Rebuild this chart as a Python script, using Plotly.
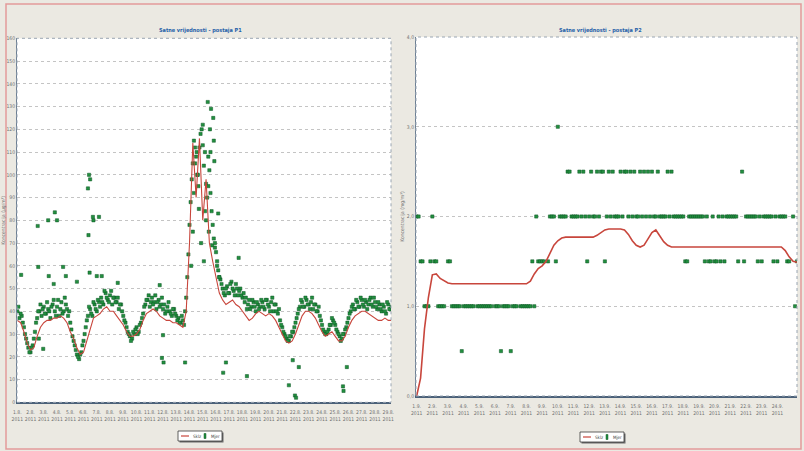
import plotly.graph_objects as go

# ---------------- Postaja P1 ----------------
# mjerenja u parnim satima (4-satni koraci od sata 0)
p1_step_h = 4
p1_mjer = [
    40, 37, 38,
    33, 28, 24, 22, 25, 31,
    37, 40, 38, 42, 39, 41, 37, 43, 40,
    42, 38, 44, 40, 43, 38, 35,
    29, 25, 21, 19, 22, 27, 33,
    38, 41, 38, 43, 40, 44,
    46, 43, 48, 45, 47, 43, 46,
    44, 41, 43, 38, 35,
    31, 29, 28, 30,
    33, 31, 35, 39, 43,
    45, 42, 46, 44, 41, 45, 43,
    41, 39, 42, 40, 38, 41, 38,
    37, 35, 36, 40,
    55, 78, 98, 115,
    108, 95, 118, 122, 110, 90, 102, 84, 72,
    66, 58, 54, 50,
    47, 51, 48, 53, 49, 52, 47, 50, 46,
    44, 41, 45, 42, 44, 40, 43, 42,
    44, 41, 45, 42, 44, 40, 43, 39, 36, 33,
    30, 28, 27, 29, 31, 35, 39, 42,
    44, 42, 45, 43, 44, 41, 43, 40, 38,
    34, 31, 30, 32, 34, 36, 34,
    31, 29, 28, 30, 33, 37, 40,
    43, 41, 44, 42, 45, 42, 44,
    43, 46, 42, 44, 41, 43,
    40, 42, 39, 43, 41,
]
# mjerenja u medusatima (sat 2 + 4-satni koraci)
p1_mjer_b = [
    42, 39, 35,
    30, 26, 22, 24, 28, 35,
    40, 43, 41, 39, 44, 40, 42, 45, 38,
    45, 41, 39, 46, 41, 40, 32,
    27, 23, 20, 21, 25, 30, 36,
    42, 39, 44, 41, 45, 42,
    44, 49, 46, 44, 49, 46, 44,
    46, 43, 40, 36, 33,
    30, 27, 31, 32,
    30, 34, 37, 42, 45,
    47, 44, 43, 47, 44, 42, 46,
    43, 40, 44, 39, 41, 39, 36,
    35, 38, 34, 46,
    65, 88, 105, 112,
    100, 112, 120, 104, 96, 108, 92, 78, 68,
    62, 55, 52, 48,
    50, 48, 52, 50, 47, 50, 49, 47, 48,
    46, 43, 41, 45, 42, 44, 41, 45,
    42, 45, 43, 40, 46, 43, 40, 41, 34, 31,
    29, 27, 29, 31, 33, 37, 41, 45,
    42, 46, 43, 41, 46, 43, 40, 42, 36,
    32, 30, 31, 34, 37, 35, 32,
    30, 27, 30, 32, 35, 39, 42,
    41, 45, 42, 46, 43, 45, 41,
    45, 43, 46, 42, 44, 41,
    43, 40, 44, 41, 42,
]
# pojedinacna odstupanja (sat, vrijednost)
p1_extra_h = [7, 37, 38, 39, 47, 56, 57, 66, 68, 72, 83, 88, 108, 128, 129,
              130, 131, 132, 137, 138, 144, 148, 153, 182, 258, 262, 264, 265,
              304, 315, 318, 320, 322, 325, 327, 329, 333, 336, 338, 340, 342,
              345, 346, 347, 349, 350, 351, 353, 355, 356, 357, 358, 362, 364,
              366, 373, 378, 401, 416, 492, 499, 503, 505, 510, 590, 591, 597]
p1_extra_v = [56, 77.5, 59.5, 28, 23.5, 80, 55.5, 52, 83.5, 80, 59.5, 55.5, 53, 94, 73.5,
              100, 57, 98, 81.5, 80, 55.5, 81.5, 55.5, 52.5, 51.5, 19.5, 29.5, 17.5,
              17.5, 60, 75, 92, 105, 110, 100, 85, 70, 113, 62, 84, 80,
              132, 95, 75, 120, 110, 129, 69, 125, 115, 106, 70, 60, 83,
              55, 13, 17.5, 63.5, 11.5, 7.5, 18.5, 3, 2, 15.5, 7, 5, 15.5]
# klizni prosjek, 6-satni koraci
p1_sklz_step_h = 6
p1_sklz = [
    36, 35, 31, 26, 23, 24, 29, 33, 35, 36, 36, 37, 37, 38, 37, 35,
    31, 28, 24, 21, 22, 27, 33, 37, 38, 39, 41, 42, 40, 40, 38, 36,
    34, 31, 29, 29, 30, 32, 36, 39, 40, 41, 40, 38, 37, 36, 36, 35,
    35, 34, 33, 40, 70, 114, 90, 116, 80, 98, 70, 62, 55, 48, 45, 43,
    44, 45, 43, 42, 40, 38, 36, 37, 39, 40, 39, 38, 39, 38, 36, 33,
    30, 27, 26, 27, 30, 34, 38, 40, 40, 39, 37, 34, 31, 29, 30, 31,
    29, 27, 27, 29, 33, 36, 38, 39, 40, 40, 39, 38, 37, 36, 36, 37,
    36, 36,
]
p1_tick_h = [0, 24, 48, 72, 96, 120, 144, 168, 192, 216, 240, 264, 288, 312, 336,
             360, 384, 408, 432, 456, 480, 504, 528, 552, 576, 600, 624, 648, 672]
p1_tick_text = ["1.8.<br>2011", "2.8.<br>2011", "3.8.<br>2011", "4.8.<br>2011",
                "5.8.<br>2011", "6.8.<br>2011", "7.8.<br>2011", "8.8.<br>2011",
                "9.8.<br>2011", "10.8.<br>2011", "11.8.<br>2011", "12.8.<br>2011",
                "13.8.<br>2011", "14.8.<br>2011", "15.8.<br>2011", "16.8.<br>2011",
                "17.8.<br>2011", "18.8.<br>2011", "19.8.<br>2011", "20.8.<br>2011",
                "21.8.<br>2011", "22.8.<br>2011", "23.8.<br>2011", "24.8.<br>2011",
                "25.8.<br>2011", "26.8.<br>2011", "27.8.<br>2011", "28.8.<br>2011",
                "29.8.<br>2011"]
p1_y_ticks = [0, 10, 20, 30, 40, 50, 60, 70, 80, 90, 100, 110, 120, 130, 140, 150, 160]

# ---------------- Postaja P2 ----------------
# mjerenja, 3-satni koraci (None = nema podatka)
p2_step_h = 3
p2_mjer = [
    2, 2, 1.5, 1.5, 1, 1, 1, 1.5, 2, 1.5,
    1.5, 1, 1, 1, 1, None, 1.5, 1.5, 1, 1,
    1, 1, 1, 0.5, 1, 1, 1, 1, 1, 1,
    None, 1, 1, 1, 1, 1, 1, 1, 1, None,
    1, 1, 1, 0.5, 1, 1, 1, 1, 0.5, 1,
    1, 1, None, 1, 1, 1, 1, 1, 1, 1.5,
    1, 2, 1.5, 1.5, 1.5, 1.5, None, 1.5, 2, 2,
    2, 1.5, 3, 2, 2, 2, 2, 2.5, 2.5, 2,
    2, 2, 2, 2.5, 2, 2.5, 2, 1.5, 2, 2.5,
    2, 2, 2.5, 2, 2.5, 2.5, 1.5, 2, 2.5, 2,
    2.5, 2, 2, 2, 2.5, 2, 2.5, 2.5, 2, 2.5,
    2, 2.5, 2, 2, 2.5, 2, 2.5, 2, 2.5, 2,
    2.5, 2, 2, 2.5, 2, 2, 2, 2, 2.5, 2,
    2.5, 2, 2, 2, 2, 2, 2, 1.5, 1.5, 2,
    2, 2, 2, 2, 2, 2, 2, 1.5, 2, 1.5,
    1.5, 2, 1.5, 1.5, 2, 1.5, 2, 1.5, 2, 2,
    2, 2, 2, 2, 1.5, None, 2.5, 1.5, 2, 2,
    2, 2, 2, 2, 1.5, 2, 1.5, 2, 2, 2,
    2, 2, 1.5, 2, 1.5, 2, 2, 2, 2, 1.5,
    1.5, None, 2, 1, 1.5,
]
# klizni prosjek, 6-satni koraci
p2_sklz_step_h = 6
p2_sklz = [
    0, 0.2, 0.75, 1.1, 1.35, 1.36, 1.31, 1.28, 1.26,
    1.25, 1.25, 1.25, 1.25, 1.25, 1.25, 1.25, 1.25, 1.25, 1.25,
    1.25, 1.25, 1.25, 1.25, 1.25, 1.25, 1.25, 1.25, 1.25, 1.25,
    1.28, 1.36, 1.42, 1.45, 1.5, 1.6, 1.68, 1.73, 1.76, 1.77,
    1.77, 1.77, 1.77, 1.77, 1.77, 1.77, 1.77,
    1.79, 1.82, 1.85, 1.86, 1.86, 1.86, 1.86, 1.85, 1.8, 1.73,
    1.68, 1.66, 1.68, 1.75, 1.82, 1.85, 1.78, 1.72, 1.68, 1.66,
    1.66, 1.66, 1.66, 1.66, 1.66, 1.66, 1.66, 1.66, 1.66, 1.66,
    1.66, 1.66, 1.66, 1.66, 1.66, 1.66, 1.66, 1.66, 1.66, 1.66,
    1.66, 1.66, 1.66, 1.66, 1.66, 1.66, 1.66, 1.66,
    1.62, 1.55, 1.5, 1.49,
]
p2_tick_h = [0, 24, 48, 72, 96, 120, 144, 168, 192, 216, 240, 264, 288, 312, 336,
             360, 384, 408, 432, 456, 480, 504, 528, 552]
p2_tick_text = ["1.9.<br>2011", "2.9.<br>2011", "3.9.<br>2011", "4.9.<br>2011",
                "5.9.<br>2011", "6.9.<br>2011", "7.9.<br>2011", "8.9.<br>2011",
                "9.9.<br>2011", "10.9.<br>2011", "11.9.<br>2011", "12.9.<br>2011",
                "13.9.<br>2011", "14.9.<br>2011", "15.9.<br>2011", "16.9.<br>2011",
                "17.9.<br>2011", "18.9.<br>2011", "19.9.<br>2011", "20.9.<br>2011",
                "21.9.<br>2011", "22.9.<br>2011", "23.9.<br>2011", "24.9.<br>2011"]
p2_y_ticks = [0, 1, 2, 3, 4]
p2_y_text = ["0,0", "1,0", "2,0", "3,0", "4,0"]

titles = ["Satne vrijednosti - postaja P1", "Satne vrijednosti - postaja P2"]
legend_names = ["Sklz", "Mjer"]

# ---------------- stil ----------------
W, H = 804, 451
RED = "#c8463c"
GREEN = "#22903f"
GREEN_EDGE = "#0c5424"
FONT_FAMILY = "Liberation Sans Narrow, DejaVu Sans Condensed, sans-serif"
TICK_FONT = dict(family=FONT_FAMILY, size=5, color="#707070")

p1_mjer_x = [i * p1_step_h for i in range(len(p1_mjer))]
p1_mjer_b_x = [2 + i * p1_step_h for i in range(len(p1_mjer_b))]
p1_sklz_x = [i * p1_sklz_step_h for i in range(len(p1_sklz))]
p2_mjer_x = [i * p2_step_h for i in range(len(p2_mjer))]
p2_sklz_x = [i * p2_sklz_step_h for i in range(len(p2_sklz))]

marker_style = dict(symbol="square", size=3.2, color=GREEN, line=dict(color=GREEN_EDGE, width=0.5))

fig = go.Figure()
fig.add_trace(go.Scatter(x=p1_mjer_x + p1_mjer_b_x + p1_extra_h,
                         y=p1_mjer + p1_mjer_b + p1_extra_v, mode="markers",
                         name=legend_names[1], marker=marker_style, xaxis="x", yaxis="y"))
fig.add_trace(go.Scatter(x=p1_sklz_x, y=p1_sklz, mode="lines", name=legend_names[0],
                         line=dict(color=RED, width=1.1), xaxis="x", yaxis="y"))
fig.add_trace(go.Scatter(x=p2_mjer_x, y=p2_mjer, mode="markers", name=legend_names[1],
                         marker=marker_style, xaxis="x2", yaxis="y2"))
fig.add_trace(go.Scatter(x=p2_sklz_x, y=p2_sklz, mode="lines", name=legend_names[0],
                         line=dict(color=RED, width=1.6), xaxis="x2", yaxis="y2"))

def px(x):
    return x / W

def py(y):
    return 1 - y / H

common_x = dict(showgrid=False, zeroline=False, showline=True, linecolor="#4b6179",
                linewidth=2, ticks="", tickfont=TICK_FONT, tickangle=0, automargin=False,
                tickmode="array", ticklabelstandoff=4)
common_y = dict(showgrid=True, gridcolor="#c4c4c4", griddash="dot", gridwidth=1,
                zeroline=False, showline=True, linecolor="#6d7f93", linewidth=1,
                ticks="", tickfont=TICK_FONT, automargin=False, tickmode="array")

fig.update_layout(
    width=W, height=H,
    margin=dict(l=0, r=0, t=0, b=0),
    paper_bgcolor="#ebe9e2",
    plot_bgcolor="#ffffff",
    showlegend=False,
    xaxis=dict(domain=[px(17), px(391)], range=[-0.5, 677], anchor="y",
               tickvals=p1_tick_h, ticktext=p1_tick_text, **common_x),
    yaxis=dict(domain=[py(402.3), py(38.3)], range=[0, 160], anchor="x",
               tickvals=p1_y_ticks, ticktext=[str(v) for v in p1_y_ticks],
               title=dict(text="Koncentracija (µg/m³)", standoff=2,
                          font=dict(family=FONT_FAMILY, size=5, color="#707070")),
               **common_y),
    xaxis2=dict(domain=[px(416), px(797)], range=[-1, 582], anchor="y2",
                tickvals=p2_tick_h, ticktext=p2_tick_text, **common_x),
    yaxis2=dict(domain=[py(396), py(37)], range=[0, 4], anchor="x2",
                tickvals=p2_y_ticks, ticktext=p2_y_text,
                title=dict(text="Koncentracija (mg/m³)", standoff=2,
                           font=dict(family=FONT_FAMILY, size=5, color="#707070")),
                **common_y),
)

# naslovi grafova
for cx, text in [(200, titles[0]), (600, titles[1])]:
    fig.add_annotation(x=px(cx), y=py(30), xref="paper", yref="paper", text=f"<b>{text}</b>",
                       showarrow=False, xanchor="center", yanchor="middle",
                       font=dict(family=FONT_FAMILY, size=5.5, color="#2660a8"))

# okvir podrucja grafa (gornji i desni rub tockasto)
for xr, yr in [("x domain", "y domain"), ("x2 domain", "y2 domain")]:
    fig.add_shape(type="rect", xref=xr, yref=yr, x0=0, x1=1, y0=0, y1=1,
                  line=dict(color="#9aa6b3", width=1, dash="dot"), layer="above")

# male legende ispod svakog grafa: (lijevi rub, gornji rub) u pikselima
for lx, ly in [(178, 431), (580, 432)]:
    bw, bh = 44, 10
    fig.add_shape(type="rect", xref="paper", yref="paper",
                  x0=px(lx + 1.5), x1=px(lx + bw + 1.5), y0=py(ly + bh + 1.5), y1=py(ly + 1.5),
                  line=dict(width=0), fillcolor="#6b6b6b")
    fig.add_shape(type="rect", xref="paper", yref="paper",
                  x0=px(lx), x1=px(lx + bw), y0=py(ly + bh), y1=py(ly),
                  line=dict(color="#3a3a3a", width=0.8), fillcolor="#ffffff")
    fig.add_shape(type="line", xref="paper", yref="paper",
                  x0=px(lx + 3), x1=px(lx + 11), y0=py(ly + bh / 2), y1=py(ly + bh / 2),
                  line=dict(color=RED, width=1.2))
    fig.add_shape(type="rect", xref="paper", yref="paper",
                  x0=px(lx + 26), x1=px(lx + 28), y0=py(ly + 7.5), y1=py(ly + 2.5),
                  line=dict(color=GREEN_EDGE, width=0.5), fillcolor=GREEN)
    fig.add_annotation(x=px(lx + 12.5), y=py(ly + bh / 2), xref="paper", yref="paper",
                       text=legend_names[0], showarrow=False, xanchor="left", yanchor="middle",
                       font=dict(family=FONT_FAMILY, size=4.5, color="#444"))
    fig.add_annotation(x=px(lx + 30.5), y=py(ly + bh / 2), xref="paper", yref="paper",
                       text=legend_names[1], showarrow=False, xanchor="left", yanchor="middle",
                       font=dict(family=FONT_FAMILY, size=4.5, color="#444"))

# vanjski okvir stranice
fig.add_shape(type="rect", xref="paper", yref="paper", x0=px(6), x1=px(801), y0=py(449), y1=py(4),
              line=dict(color="#e39a9a", width=1.5))

fig.write_html("out.html")
